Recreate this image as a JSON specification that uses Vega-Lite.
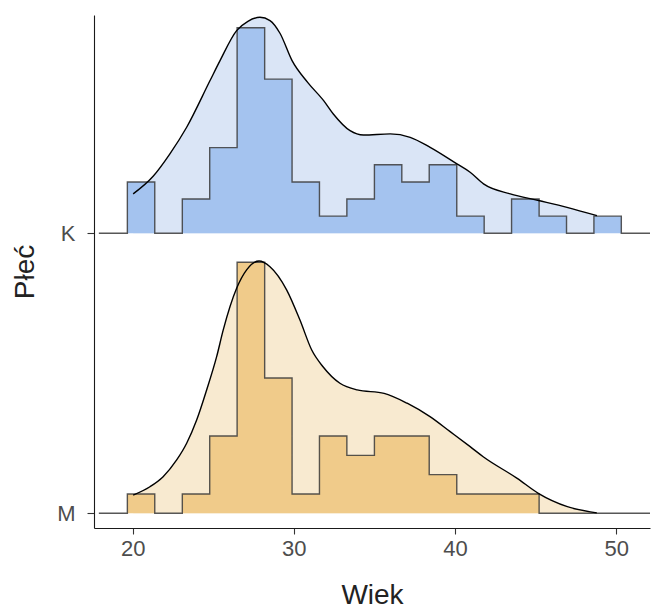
{
  "$schema": "https://vega.github.io/schema/vega-lite/v6.json",
  "width": 556,
  "height": 513,
  "autosize": {"type": "none"},
  "padding": {"left": 94, "top": 15, "right": 1, "bottom": 82},
  "config": {
    "view": {"stroke": null},
    "font": "Liberation Sans",
    "axis": {
      "grid": false,
      "domainColor": "#1a1a1a",
      "domainWidth": 1.1,
      "tickColor": "#333333",
      "tickWidth": 1.1,
      "labelColor": "#4d4d4d",
      "labelFontSize": 22,
      "titleFontSize": 28,
      "titleFontWeight": "normal",
      "titleColor": "#222222"
    }
  },
  "datasets": {
    "hist": [
      {"grp": "K", "x": 17.9, "d": 0},
      {"grp": "K", "x": 19.67, "d": 0.0332},
      {"grp": "K", "x": 21.37, "d": 0},
      {"grp": "K", "x": 23.08, "d": 0.0222},
      {"grp": "K", "x": 24.78, "d": 0.0554},
      {"grp": "K", "x": 26.48, "d": 0.1330},
      {"grp": "K", "x": 28.19, "d": 0.0997},
      {"grp": "K", "x": 29.89, "d": 0.0332},
      {"grp": "K", "x": 31.59, "d": 0.0111},
      {"grp": "K", "x": 33.29, "d": 0.0222},
      {"grp": "K", "x": 35.00, "d": 0.0443},
      {"grp": "K", "x": 36.70, "d": 0.0332},
      {"grp": "K", "x": 38.40, "d": 0.0443},
      {"grp": "K", "x": 40.11, "d": 0.0111},
      {"grp": "K", "x": 41.81, "d": 0},
      {"grp": "K", "x": 43.51, "d": 0.0222},
      {"grp": "K", "x": 45.22, "d": 0.0111},
      {"grp": "K", "x": 46.92, "d": 0},
      {"grp": "K", "x": 48.62, "d": 0.0111},
      {"grp": "K", "x": 50.32, "d": 0},
      {"grp": "K", "x": 52.1, "d": 0},
      {"grp": "M", "x": 17.9, "d": 0},
      {"grp": "M", "x": 19.67, "d": 0.0125},
      {"grp": "M", "x": 21.37, "d": 0},
      {"grp": "M", "x": 23.08, "d": 0.0125},
      {"grp": "M", "x": 24.78, "d": 0.0500},
      {"grp": "M", "x": 26.48, "d": 0.1624},
      {"grp": "M", "x": 28.19, "d": 0.0875},
      {"grp": "M", "x": 29.89, "d": 0.0125},
      {"grp": "M", "x": 31.59, "d": 0.0500},
      {"grp": "M", "x": 33.29, "d": 0.0375},
      {"grp": "M", "x": 35.00, "d": 0.0500},
      {"grp": "M", "x": 36.70, "d": 0.0500},
      {"grp": "M", "x": 38.40, "d": 0.0250},
      {"grp": "M", "x": 40.11, "d": 0.0125},
      {"grp": "M", "x": 41.81, "d": 0.0125},
      {"grp": "M", "x": 43.51, "d": 0.0125},
      {"grp": "M", "x": 45.22, "d": 0},
      {"grp": "M", "x": 46.92, "d": 0},
      {"grp": "M", "x": 48.62, "d": 0},
      {"grp": "M", "x": 50.32, "d": 0},
      {"grp": "M", "x": 52.1, "d": 0}
    ],
    "dens": [
      {"grp": "K", "x": 20.03, "d": 0.0255},
      {"grp": "K", "x": 21.27, "d": 0.0369},
      {"grp": "K", "x": 22.31, "d": 0.0514},
      {"grp": "K", "x": 23.35, "d": 0.0686},
      {"grp": "K", "x": 24.8, "d": 0.0988},
      {"grp": "K", "x": 25.42, "d": 0.1117},
      {"grp": "K", "x": 26.45, "d": 0.1311},
      {"grp": "K", "x": 27.15, "d": 0.1371},
      {"grp": "K", "x": 27.9, "d": 0.1397},
      {"grp": "K", "x": 28.52, "d": 0.1376},
      {"grp": "K", "x": 29.14, "d": 0.1294},
      {"grp": "K", "x": 29.89, "d": 0.1117},
      {"grp": "K", "x": 30.87, "d": 0.0975},
      {"grp": "K", "x": 31.85, "d": 0.0858},
      {"grp": "K", "x": 32.45, "d": 0.0772},
      {"grp": "K", "x": 33.49, "d": 0.0664},
      {"grp": "K", "x": 34.32, "d": 0.0636},
      {"grp": "K", "x": 35.98, "d": 0.0643},
      {"grp": "K", "x": 37.22, "d": 0.0621},
      {"grp": "K", "x": 38.46, "d": 0.0556},
      {"grp": "K", "x": 40.12, "d": 0.0449},
      {"grp": "K", "x": 40.94, "d": 0.0395},
      {"grp": "K", "x": 41.77, "d": 0.0320},
      {"grp": "K", "x": 43.43, "d": 0.0255},
      {"grp": "K", "x": 45.19, "d": 0.0212},
      {"grp": "K", "x": 46.95, "d": 0.0168},
      {"grp": "K", "x": 48.81, "d": 0.0114},
      {"grp": "M", "x": 20.03, "d": 0.0118},
      {"grp": "M", "x": 21.07, "d": 0.0172},
      {"grp": "M", "x": 21.89, "d": 0.0237},
      {"grp": "M", "x": 22.73, "d": 0.0345},
      {"grp": "M", "x": 23.35, "d": 0.0453},
      {"grp": "M", "x": 23.97, "d": 0.0603},
      {"grp": "M", "x": 24.59, "d": 0.0798},
      {"grp": "M", "x": 25.21, "d": 0.1013},
      {"grp": "M", "x": 25.62, "d": 0.1186},
      {"grp": "M", "x": 26.45, "d": 0.1455},
      {"grp": "M", "x": 27.07, "d": 0.1574},
      {"grp": "M", "x": 27.84, "d": 0.1632},
      {"grp": "M", "x": 28.52, "d": 0.1595},
      {"grp": "M", "x": 29.56, "d": 0.1444},
      {"grp": "M", "x": 30.38, "d": 0.1250},
      {"grp": "M", "x": 31.11, "d": 0.1056},
      {"grp": "M", "x": 31.81, "d": 0.0948},
      {"grp": "M", "x": 32.86, "d": 0.0841},
      {"grp": "M", "x": 33.93, "d": 0.0798},
      {"grp": "M", "x": 35.6, "d": 0.0776},
      {"grp": "M", "x": 37.03, "d": 0.0712},
      {"grp": "M", "x": 38.45, "d": 0.0625},
      {"grp": "M", "x": 39.7, "d": 0.0528},
      {"grp": "M", "x": 40.94, "d": 0.0431},
      {"grp": "M", "x": 41.75, "d": 0.0366},
      {"grp": "M", "x": 43.86, "d": 0.0226},
      {"grp": "M", "x": 45.17, "d": 0.0129},
      {"grp": "M", "x": 46.97, "d": 0.0043},
      {"grp": "M", "x": 48.8, "d": 0.0003}
    ]
  },
  "encoding": {
    "x": {
      "field": "x", "type": "quantitative",
      "scale": {"domain": [17.6, 52.1], "nice": false, "zero": false},
      "axis": {"values": [20, 30, 40, 50], "title": "Wiek", "tickSize": 6, "labelPadding": 4, "titlePadding": 22}
    },
    "y": {
      "field": "top", "type": "quantitative",
      "scale": {"domain": [-0.0095, 0.3223], "nice": false, "zero": false},
      "axis": {"values": [0, 0.1811], "labelExpr": "datum.value > 0.1 ? 'K' : 'M'", "title": "Płeć", "tickSize": 7, "labelPadding": 12, "titlePadding": 17}
    }
  },
  "layer": [
    {
      "data": {"name": "dens"},
      "transform": [
        {"calculate": "datum.grp == 'K' ? 0.1811 : 0", "as": "base"},
        {"calculate": "datum.base + datum.d", "as": "top"}
      ],
      "mark": {"type": "area", "interpolate": "monotone"},
      "encoding": {
        "y2": {"field": "base"},
        "fill": {"field": "grp", "type": "nominal", "scale": {"domain": ["K", "M"], "range": ["#DAE5F6", "#F8EAD0"]}, "legend": null}
      }
    },
    {
      "data": {"name": "hist"},
      "transform": [
        {"calculate": "datum.grp == 'K' ? 0.1811 : 0", "as": "base"},
        {"calculate": "datum.base + datum.d", "as": "top"}
      ],
      "mark": {"type": "area", "interpolate": "step-after"},
      "encoding": {
        "y2": {"field": "base"},
        "fill": {"field": "grp", "type": "nominal", "scale": {"domain": ["K", "M"], "range": ["#A4C3EF", "#F0CB8A"]}, "legend": null}
      }
    },
    {
      "data": {"name": "hist"},
      "transform": [
        {"calculate": "datum.grp == 'K' ? 0.1811 : 0", "as": "base"},
        {"calculate": "datum.base + datum.d", "as": "top"}
      ],
      "mark": {"type": "line", "interpolate": "step-after", "color": "#3a3a3a", "strokeWidth": 1.4, "opacity": 0.85},
      "encoding": {
        "detail": {"field": "grp", "type": "nominal"}
      }
    },
    {
      "data": {"name": "dens"},
      "transform": [
        {"calculate": "datum.grp == 'K' ? 0.1811 : 0", "as": "base"},
        {"calculate": "datum.base + datum.d", "as": "top"}
      ],
      "mark": {"type": "line", "interpolate": "monotone", "color": "#000000", "strokeWidth": 1.4},
      "encoding": {
        "detail": {"field": "grp", "type": "nominal"}
      }
    }
  ],
  "resolve": {"scale": {"fill": "independent"}}
}
